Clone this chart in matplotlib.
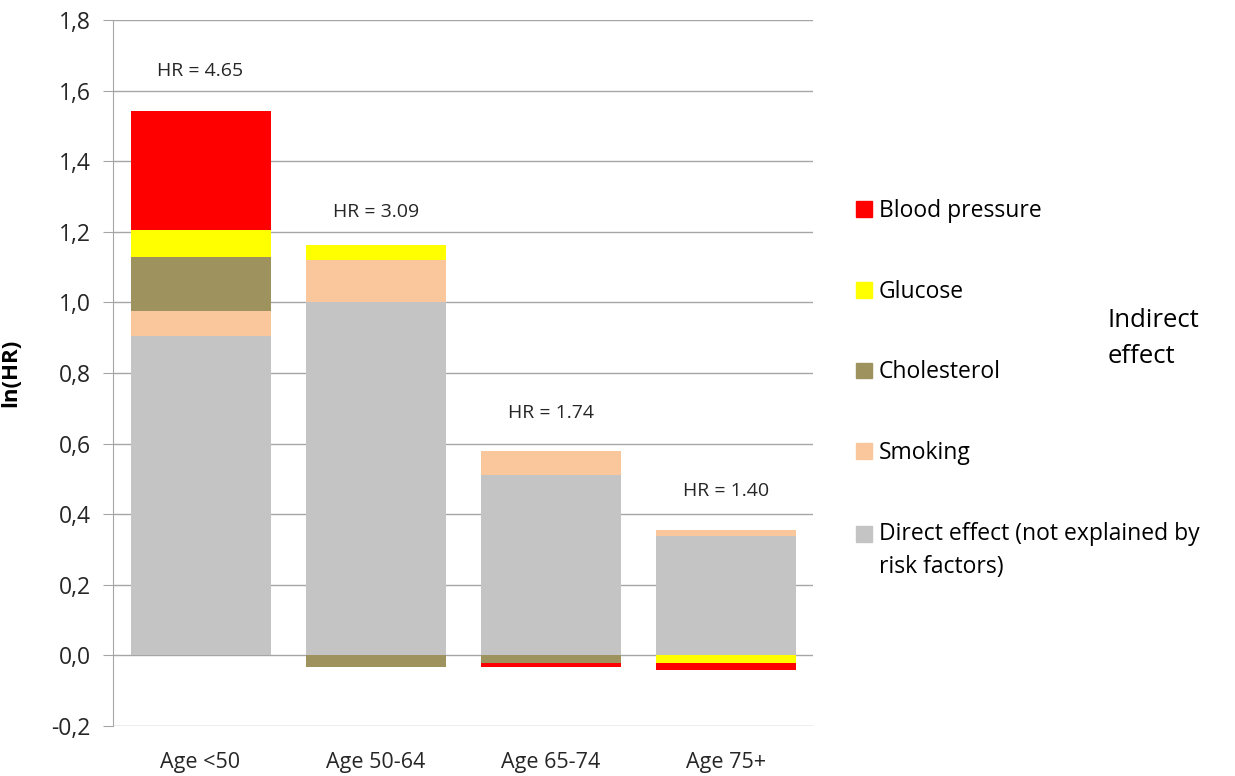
import matplotlib.pyplot as plt
import numpy as np
from matplotlib.patches import Patch, Rectangle
from matplotlib.legend_handler import HandlerPatch

plt.rcParams['font.family'] = ['Open Sans', 'DejaVu Sans']

# stacked ln(HR) components per age group
groups = ['Age <50', 'Age 50-64', 'Age 65-74', 'Age 75+']
direct = [0.905, 1.00, 0.51, 0.337]
smoking = [0.07, 0.12, 0.068, 0.017]
cholesterol = [0.155, -0.033, -0.021, 0.0]
glucose = [0.075, 0.042, 0.0, -0.021]
blood_pressure = [0.337, 0.0, -0.011, -0.019]
hr_labels = ['HR = 4.65', 'HR = 3.09', 'HR = 1.74', 'HR = 1.40']

# gap between bar top and its HR label
label_gap = [0.115, 0.093, 0.11, 0.113]

colors = {
    'direct': '#c4c4c4',
    'smoking': '#f9c79b',
    'cholesterol': '#9e935e',
    'glucose': '#ffff00',
    'bp': '#ff0000',
}

fig = plt.figure(figsize=(12.35, 7.76), dpi=100)
ax = fig.add_axes([0.0915, 0.0644, 0.567, 0.9098])

x = np.arange(len(groups))
w = 0.8
pos_base = np.zeros(len(groups))
neg_base = np.zeros(len(groups))

series = [
    (direct, 'direct'),
    (smoking, 'smoking'),
    (cholesterol, 'cholesterol'),
    (glucose, 'glucose'),
    (blood_pressure, 'bp'),
]
for vals, key in series:
    vals = np.array(vals)
    pos = np.where(vals > 0, vals, 0)
    neg = np.where(vals < 0, vals, 0)
    ax.bar(x, pos, w, bottom=pos_base, color=colors[key], edgecolor='none',
           zorder=3)
    ax.bar(x, neg, w, bottom=neg_base, color=colors[key], edgecolor='none',
           zorder=3)
    pos_base += pos
    neg_base += neg

for xi, top, gap, lab in zip(x, pos_base, label_gap, hr_labels):
    ax.text(xi, top + gap, lab, ha='center', va='center', fontsize=14,
            color='#262626')

ax.set_xlim(-0.5, 3.5)
ax.set_ylim(-0.2, 1.8)
yt = np.arange(-0.2, 1.81, 0.2)
ax.set_yticks(yt)
ax.set_yticklabels([f'{v:.1f}'.replace('.', ',') for v in yt], fontsize=16.5,
                   color='#262626')
ax.set_xticks(x)
ax.set_xticklabels(groups, fontsize=15.5, color='#262626')
ax.tick_params(axis='x', length=0, pad=19)
ax.tick_params(axis='y', length=7, color='#a6a6a6', pad=9)
ax.yaxis.grid(True, color='#a6a6a6', linewidth=1, zorder=0)
for s in ['top', 'right', 'bottom']:
    ax.spines[s].set_visible(False)
ax.spines['left'].set_color('#a6a6a6')
ax.set_axisbelow(True)
ax.set_ylabel('ln(HR)', fontsize=16, fontweight='bold', labelpad=4)
ax.yaxis.set_label_coords(-0.131, 0.5)


# the two-line entry gets its square next to the first line
def first_line_patch(legend, orig_handle, xdescent, ydescent, width, height,
                     fontsize):
    return Rectangle((-xdescent, -ydescent + 0.75 * fontsize), width, height)


handles = [
    Patch(color=colors['bp'], label='Blood pressure'),
    Patch(color=colors['glucose'], label='Glucose'),
    Patch(color=colors['cholesterol'], label='Cholesterol'),
    Patch(color=colors['smoking'], label='Smoking'),
    Patch(color=colors['direct'], label='Direct effect (not explained by\nrisk factors)'),
]
leg = fig.legend(handles=handles, loc='upper left', bbox_to_anchor=(0.686, 0.755),
                 frameon=False, fontsize=16.5, handlelength=0.68,
                 handleheight=0.68, handletextpad=0.3, labelspacing=2.47,
                 borderaxespad=0,
                 handler_map={handles[-1]: HandlerPatch(patch_func=first_line_patch)})
leg.get_texts()[-1].set_linespacing(1.5)

fig.text(0.897, 0.564, 'Indirect\neffect', fontsize=18.5, ha='left',
         va='center', linespacing=1.55)

fig.savefig('out.png', dpi=100)
